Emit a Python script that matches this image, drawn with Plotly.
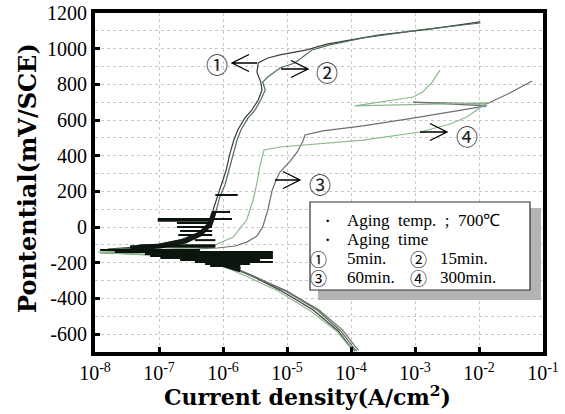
import plotly.graph_objects as go

# ---------------- data (log10 of current density [A/cm2], potential [mV/SCE]) ----------------
c1_logi = [-3.94, -4.02, -4.20, -4.59, -5.11, -5.58, -6.05, -6.52, -7.14, -7.80, -7.14, -6.67, -6.36, -6.20,
           -6.14, -6.09, -6.02, -5.95, -5.89, -5.83, -5.77, -5.66, -5.55, -5.45, -5.39, -5.41, -5.47, -5.45,
           -5.30, -5.11, -4.69, -4.38, -3.55, -2.77, -1.98]
c1_E = [-695, -667, -582, -465, -353, -269, -196, -156, -134, -123, -106, -72, -28, 29, 113, 169, 236, 320,
        415, 488, 544, 611, 656, 712, 768, 813, 869, 920, 948, 965, 993, 1026, 1077, 1110, 1150]

c2_logi = [-3.91, -3.98, -4.16, -4.53, -5.05, -5.52, -6.00, -6.48, -7.14, -7.86, -7.14, -6.59, -6.30, -6.16,
           -6.09, -6.05, -5.97, -5.91, -5.84, -5.78, -5.72, -5.61, -5.50, -5.41, -5.34, -5.38, -5.30, -5.11,
           -4.88, -4.75, -4.61, -4.33, -3.81, -2.92, -1.98]
c2_E = [-695, -667, -582, -465, -353, -274, -201, -162, -140, -128, -112, -78, -33, 29, 113, 169, 236, 320,
        415, 488, 544, 611, 656, 712, 768, 813, 841, 892, 920, 953, 993, 1021, 1060, 1105, 1144]

c3_logi = [-3.88, -3.95, -4.13, -4.50, -5.00, -5.47, -5.95, -6.48, -7.30, -7.92, -7.14, -6.52, -6.09, -5.81,
           -5.63, -5.47, -5.38, -5.30, -5.23, -5.17, -5.11, -4.95, -4.84, -4.75, -4.72, -4.44, -3.81, -3.03,
           -1.88, -3.03, -1.88, -1.52, -1.17]
c3_E = [-689, -661, -577, -465, -358, -285, -218, -173, -151, -145, -134, -123, -117, -106, -84, -50, 1, 96,
        208, 264, 309, 370, 421, 483, 516, 539, 567, 611, 679, 701, 690, 752, 819]

c4_logi = [-3.95, -4.03, -4.23, -4.63, -5.14, -5.61, -6.08, -6.58, -7.45, -7.95, -7.14, -6.52, -6.20, -5.84,
           -5.63, -5.53, -5.47, -5.42, -5.36, -5.11, -4.48, -3.81, -2.92, -2.45, -2.19, -2.03, -1.88, -3.94,
           -3.63, -3.28, -3.03, -2.88, -2.73, -2.61]
c4_E = [-695, -667, -582, -470, -358, -280, -207, -168, -151, -140, -128, -117, -112, -56, 40, 152, 247, 348,
        432, 449, 466, 488, 533, 578, 617, 656, 696, 679, 696, 712, 729, 757, 813, 880]

# noisy horizontal spikes around the corrosion potential
spike_E = [180, 85, 45, 35, 23, 0, -22, -44, -73, -101, -110, -128, -140, -151, -162, -173, -184, -196, -207, -218]
spike_lo = [-6.12, -6.17, -7.02, -7.02, -6.72, -6.72, -6.67, -6.70, -6.44, -7.30, -7.45, -7.92, -7.69, -7.22,
            -7.14, -6.98, -6.67, -6.44, -6.28, -6.20]
spike_hi = [-5.77, -5.89, -5.86, -6.20, -6.20, -6.17, -6.17, -6.17, -6.12, -6.12, -6.12, -6.36, -5.22, -5.22,
            -5.22, -5.22, -5.42, -5.22, -5.58, -5.73]

band_an_logi = [-7.45, -6.98, -6.59, -6.36, -6.20, -6.14]
band_an_E = [-117, -106, -78, -39, 17, 85]
band_ca_logi = [-7.14, -6.52, -6.12, -5.73]
band_ca_E = [-140, -168, -196, -240]

x_exponents = [-8, -7, -6, -5, -4, -3, -2, -1]
y_ticks = [-600, -400, -200, 0, 200, 400, 600, 800, 1000, 1200]

series_names = ["5min.", "15min.", "60min.", "300min."]
circled = ["\u2460", "\u2461", "\u2462", "\u2463"]
legend_head = ["Aging  temp.  ;  700\u2103", "Aging  time"]

# ---------------- figure ----------------
def lin(v):
    return [10 ** a for a in v]

fig = go.Figure()

colors = ["#3c3c3c", "#4f6f55", "#6e6e6e", "#8dba8d"]
for lg, e, c in zip([c1_logi, c2_logi, c3_logi, c4_logi], [c1_E, c2_E, c3_E, c4_E], colors):
    fig.add_trace(go.Scatter(x=lin(lg), y=e, mode="lines", line=dict(color=c, width=1.2),
                             showlegend=False, hoverinfo="skip"))

# dense bands near Ecorr
fig.add_trace(go.Scatter(x=lin(band_an_logi), y=band_an_E, mode="lines",
                         line=dict(color="#101a12", width=5), showlegend=False, hoverinfo="skip"))
fig.add_trace(go.Scatter(x=lin(band_ca_logi), y=band_ca_E, mode="lines",
                         line=dict(color="#101a12", width=5), showlegend=False, hoverinfo="skip"))

sx, sy = [], []
for e, lo, hi in zip(spike_E, spike_lo, spike_hi):
    sx += [10 ** lo, 10 ** hi, None]
    sy += [e, e, None]
fig.add_trace(go.Scatter(x=sx, y=sy, mode="lines", line=dict(color="#0c140e", width=2),
                         showlegend=False, hoverinfo="skip"))

serif = "Liberation Serif"
title_font = "DejaVu Serif"


def px(x):
    return (x - 95) / 448.0


def py(y):
    return (352 - y) / 339.0


shapes = []
# legend box shadow + box
shapes.append(dict(type="rect", xref="paper", yref="paper", x0=px(318), x1=px(541), y0=py(300), y1=py(208),
                   fillcolor="#b4b4b4", line=dict(width=0), layer="above"))
shapes.append(dict(type="rect", xref="paper", yref="paper", x0=px(310), x1=px(530), y0=py(290), y1=py(202),
                   fillcolor="white", line=dict(color="#303030", width=1.2), layer="above"))

# arrows (shaft + open chevron)
arrows = [  # tip_x, tail_x, y, direction (+1 points right, -1 left)
    (232, 257, 63, -1),
    (308, 281, 69, 1),
    (300, 275, 180, 1),
    (447, 420, 132, 1),
]
for tip, tail, yy, d in arrows:
    back = tip - d * 17
    path = (f"M {px(tail)} {py(yy)} L {px(tip)} {py(yy)} "
            f"M {px(back)} {py(yy - 8.5)} L {px(tip)} {py(yy)} L {px(back)} {py(yy + 8.5)}")
    shapes.append(dict(type="path", xref="paper", yref="paper", path=path,
                       line=dict(color="black", width=1.3), layer="above"))

annotations = []
label_pos = [(217, 63), (327, 71), (320, 183), (467, 135)]
for (lx, ly), ch in zip(label_pos, circled):
    annotations.append(dict(x=px(lx), y=py(ly), xref="paper", yref="paper", text=ch, showarrow=False,
                            font=dict(family="Noto Sans CJK JP", size=22, color="#222"),
                            xanchor="center", yanchor="middle"))

rows_y = [220, 239, 258, 277]
for i, t in enumerate(legend_head):
    annotations.append(dict(x=px(327), y=py(rows_y[i]), xref="paper", yref="paper", text="\u00b7",
                            showarrow=False, font=dict(family=serif, size=22, color="black"),
                            xanchor="center", yanchor="middle"))
    annotations.append(dict(x=px(345), y=py(rows_y[i]), xref="paper", yref="paper", text=t,
                            showarrow=False, font=dict(family=serif, size=17, color="black"),
                            xanchor="left", yanchor="middle"))
for k in range(4):
    r = 2 + k // 2
    cx = 318 if k % 2 == 0 else 418
    tx = 345 if k % 2 == 0 else 438
    annotations.append(dict(x=px(cx), y=py(rows_y[r]), xref="paper", yref="paper", text=circled[k],
                            showarrow=False, font=dict(family="Noto Sans CJK JP", size=17, color="black"),
                            xanchor="center", yanchor="middle"))
    annotations.append(dict(x=px(tx), y=py(rows_y[r]), xref="paper", yref="paper", text=series_names[k],
                            showarrow=False, font=dict(family=serif, size=17, color="black"),
                            xanchor="left", yanchor="middle"))

# axis titles
annotations.append(dict(x=px(27), y=py(178), xref="paper", yref="paper", text="Pontential(mV/SCE)",
                        textangle=-90, showarrow=False,
                        font=dict(family=title_font, size=24, color="black", weight="bold"),
                        xanchor="center", yanchor="middle"))
annotations.append(dict(x=px(307), y=py(396), xref="paper", yref="paper",
                        text="Current density(A/cm<sup>2</sup>)", showarrow=False,
                        font=dict(family=title_font, size=22, color="black", weight="bold"),
                        xanchor="center", yanchor="middle"))

fig.update_layout(
    width=565, height=414,
    margin=dict(l=95, r=22, t=13, b=62),
    paper_bgcolor="white", plot_bgcolor="white",
    shapes=shapes, annotations=annotations,
    xaxis=dict(type="log", range=[-8, -1], automargin=False,
               tickvals=[10 ** e for e in x_exponents],
               ticktext=[f"10<sup>{e}</sup>" for e in x_exponents],
               ticks="inside", ticklen=5, tickwidth=3, tickcolor="black",
               showline=True, linecolor="black", linewidth=4, mirror=True,
               showgrid=True, gridcolor="#c8c8c8", griddash="dot", gridwidth=1,
               tickfont=dict(family=serif, size=20, color="black"), zeroline=False),
    yaxis=dict(range=[-700, 1200], tickvals=y_ticks, ticktext=[str(v) for v in y_ticks], automargin=False,
               ticks="inside", ticklen=5, tickwidth=3, tickcolor="black",
               showline=True, linecolor="black", linewidth=4, mirror=True,
               showgrid=True, gridcolor="#c8c8c8", griddash="dot", gridwidth=1,
               minor=dict(dtick=100, tick0=0, showgrid=True, gridcolor="#c8c8c8", griddash="dot", ticks=""),
               tickfont=dict(family=serif, size=20, color="black"), zeroline=False),
)

fig.write_html("out.html", config={"displayModeBar": False},
               post_script="document.body.style.margin='0';document.body.style.overflow='hidden';")
